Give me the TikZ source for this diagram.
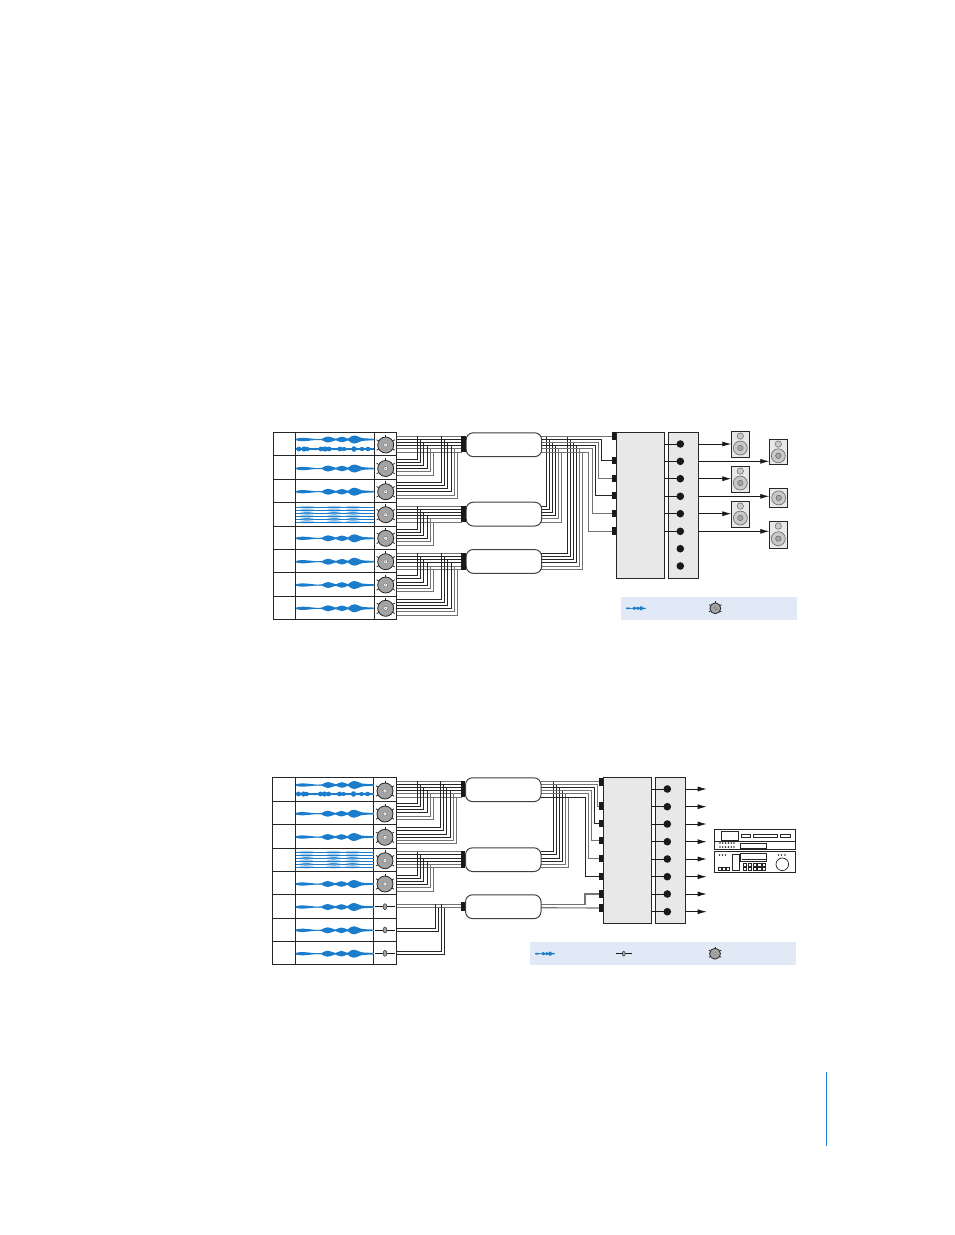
\documentclass[tikz,border=0pt]{standalone}
\usepackage{xcolor}
\usetikzlibrary{positioning, arrows.meta}
\definecolor{waveblue}{HTML}{1B7CCB}
\definecolor{wavepale}{HTML}{A9CDEB}
\definecolor{legendtint}{HTML}{E2E9F6}
\definecolor{panelgrey}{HTML}{E8E8E8}
\definecolor{knobgrey}{HTML}{A3A3A3}
\definecolor{conegrey}{HTML}{C9C9C9}

\tikzset{
  x=1pt, y=-1pt,
  wiredark/.style={draw=black!85, line width=.85pt},
  wirelight/.style={draw=black!55, line width=.95pt},
  panel/.style={draw=black!85, fill=panelgrey, line width=.9pt, inner sep=0pt, anchor=north west},
  busnode/.style={draw=black!75, fill=white, line width=1pt, rounded corners=7pt, inner sep=0pt, anchor=north west, minimum width=75.5pt, minimum height=23.8pt},
  busblock/.style={fill=black!90, inner sep=0pt, minimum width=4.2pt},
  portpin/.style={fill=black!90, inner sep=0pt, minimum width=4.2pt, minimum height=7.4pt},
  outdot/.style={circle, fill=black!90, inner sep=0pt, minimum size=7.6pt},
  cabinet/.style={draw=black!85, fill=panelgrey, line width=.8pt, inner sep=0pt, anchor=north west, minimum width=18pt},
  feed/.style={draw=black!90, line width=.8pt, -{Latex[length=9pt,width=5pt]}},
  stub/.style={draw=black!90, line width=.8pt},
  legendbar/.style={fill=legendtint, inner sep=0pt, anchor=north west},
  devicebox/.style={draw=black!85, fill=white, line width=.8pt, inner sep=0pt, anchor=north west},
  pics/knobdial/.style={code={
    \foreach \a in {-90,-30,-150,30,150}{\draw[black!85, line width=.8pt] (\a:8.2) -- (\a:10.4);}
    \draw[draw=black!85, fill=knobgrey, line width=.8pt] (0,0) circle (8);
    \draw[draw=black!60, fill=white, line width=.4pt] (0,0) circle (2);
    \fill[black!70] (0,0) circle (.5);
  }},
  pics/faderdial/.style={code={
    \draw[black!90, line width=1pt] (-10,0) -- (10,0);
    \draw[draw=black!80, fill=knobgrey, line width=.5pt] (0,0) ellipse (1.9 and 3);
  }},
  pics/wavebody/.style={code={
    \draw[wavepale, line width=.8pt] (0,0) -- (78,0);
    \fill[waveblue] plot[smooth cycle, tension=.45] coordinates {
      (0,-.6) (3,-1.4) (8,-1.6) (14,-1.1) (20,-.5) (26,-.7) (29,-2.2) (32,-3) (36,-2) (40,-.8) (43,-2) (46,-2.8) (49,-2)
      (52,-.9) (55,-3) (58.5,-4) (62,-3) (66,-1.5) (72,-1) (78,-.7)
      (78,.7) (72,1) (66,1.5) (62,3) (58.5,4) (55,3) (52,.9)
      (49,2) (46,2.8) (43,2) (40,.8) (36,2) (32,3) (29,2.2) (26,.7) (20,.5) (14,1.1) (8,1.6) (3,1.4) (0,.6)};
  }},
  pics/wavebeads/.style={code={
    \draw[waveblue, line width=1.3pt] (0,0) -- (78,0);
    \foreach \b/\r in {3/2.4,8/2.6,11/2.2,19/1.2,25/2.4,29/2.6,33/2.4,44/2.4,48/2,58/2.8,66/2,72/2.2}{
      \fill[waveblue] (\b,0) ellipse (2.6 and \r);}
  }},
  pics/wavelayers/.style={code={
    \foreach \d in {-7.4,-4.4,-1.4,1.6,4.6,7.4}{
      \foreach \b in {11,38,57}{\fill[wavepale] (\b,\d) ellipse (7.5 and 1.5);}
      \draw[waveblue, line width=.65pt] (0,\d) -- (78,\d);
    }
    \foreach \b in {11,38,57}{\fill[waveblue!80] (\b,-1.4) ellipse (4.5 and 1.3);\fill[waveblue!80] (\b,4.6) ellipse (4.5 and 1.3);}
  }},
}

\newcommand{\wiretap}[3]{\foreach \j in {0,...,5}{\coordinate (#1\j) at (#2,{#3+3.2*\j});}}
\newcommand{\wirestraight}[2]{\foreach \j/\tone in {0/wirelight,1/wiredark,2/wiredark,3/wiredark,4/wirelight,5/wirelight}{
  \draw[\tone] (#1\j) -- (#2\j);}}
\newcommand{\wireriser}[3]{\foreach \j/\tone in {0/wiredark,1/wiredark,2/wiredark,3/wiredark,4/wirelight,5/wirelight}{
  \coordinate (bend) at ({#3+3.1*\j},0);
  \draw[\tone] (#1\j) -- (bend |- #1\j) -- (bend |- #2\j);}}
\newcommand{\speakerbox}[5]{%
  \node[cabinet, minimum height=#4pt] (#1) at (#2,#3) {};
  \draw[draw=black!60, fill=conegrey, line width=.5pt] (#2+9,#3+4.8) circle (3.2);
  \draw[draw=black!60, fill=conegrey, line width=.6pt] (#2+9,#3+#5) circle (7);
  \draw[draw=black!60, fill=black!35, line width=.5pt] (#2+9,#3+#5) circle (2.7);}

\begin{document}
\begin{tikzpicture}
  \useasboundingbox (0,0) rectangle (954,1235);

  % upper routing
  \wiretap{knA1}{396.7}{436}
  \wiretap{knA2}{396.7}{459}
  \wiretap{knA3}{396.7}{482.3}
  \wiretap{knA4}{396.7}{506}
  \wiretap{knA5}{396.7}{529}
  \wiretap{knA6}{396.7}{553.3}
  \wiretap{knA7}{396.7}{575.7}
  \wiretap{knA8}{396.7}{599}
  \wiretap{inA1}{462}{436}
  \wiretap{inA2}{462}{506}
  \wiretap{inA3}{462}{553.3}
  \wiretap{outA1}{541}{436}
  \wiretap{outA2}{541}{506}
  \wiretap{outA3}{541}{553.3}
  \wirestraight{knA1}{inA1}
  \wirestraight{knA4}{inA2}
  \wirestraight{knA6}{inA3}
  \wireriser{knA2}{inA1}{417.7}
  \wireriser{knA3}{inA1}{441.7}
  \wireriser{knA5}{inA2}{417.7}
  \wireriser{knA7}{inA3}{417.7}
  \wireriser{knA8}{inA3}{441.7}
  \wireriser{outA2}{outA1}{546.3}
  \wireriser{outA3}{outA1}{567.3}

  \foreach \y [count=\n] in {436,460.7,478.7,495.3,513.7,531}{
    \node[portpin] (portA\n) at (614.5,\y) {};
  }
  \draw[wirelight] (outA10) -- (portA1.west);
  \foreach \j/\k/\xr/\tone in {1/2/601.3/wiredark,2/3/598.3/wirelight,3/4/595.3/wiredark,4/5/592/wirelight,5/6/588.7/wirelight}{
    \coordinate (bend) at (\xr,0);
    \draw[\tone] (outA1\j) -- (bend |- outA1\j) -- (bend |- portA\k) -- (portA\k.west);
  }

  % upper strip
  \draw[wiredark, line width=.9pt] (273.3,432.3) rectangle (396.7,619.3);
  \foreach \y in {455.3,479.3,502.3,526.3,549.3,572.7,596.3}{\draw[wiredark, line width=.9pt] (273.3,\y) -- (396.7,\y);}
  \foreach \x in {295.3,374.3}{\draw[wiredark, line width=.9pt] (\x,432.3) -- (\x,619.3);}
  \pic at (296,439.5) {wavebody};
  \pic at (296,449) {wavebeads};
  \foreach \y in {468.5,491.7,538.3,561.7,585,608.3}{\pic at (296,\y) {wavebody};}
  \pic at (296,514.6) {wavelayers};
  \foreach \y in {445,468.5,491.7,514.7,538.3,561.7,585,608.3}{\pic at (385.7,\y) {knobdial};}

  \node[busnode] (busA1) at (465.7,432.3) {};
  \node[busnode] (busA2) at (465.7,501.7) {};
  \node[busnode] (busA3) at (465.7,549) {};
  \node[busblock, minimum height=16.6pt] (blockA1) at (463.5,444) {};
  \node[busblock, minimum height=16.6pt] (blockA2) at (463.5,514) {};
  \node[busblock, minimum height=16.6pt] (blockA3) at (463.5,561.3) {};

  \node[panel, minimum width=47.8pt, minimum height=146pt] (mixerA) at (616.3,432.3) {};
  \node[panel, minimum width=30pt, minimum height=146pt] (monitorA) at (668.3,432.3) {};
  \foreach \y [count=\n] in {444,461.3,478.7,496.3,513.7,531.3,548.7,566}{
    \ifnum\n<7 \draw[stub] (mixerA.east |- 0,\y) -- (680.3,\y);\fi
    \node[outdot] (dotA\n) at (680.3,\y) {};
  }

  \speakerbox{spkA1}{731.3}{431.3}{25.4}{16.7}
  \speakerbox{spkA2}{769.3}{439.3}{25}{16.5}
  \speakerbox{spkA3}{731.3}{466.3}{25.4}{16.7}
  \speakerbox{spkA5}{731.3}{501.3}{25.4}{16.7}
  \speakerbox{spkA6}{769.3}{521.3}{26.4}{17.4}
  \node[cabinet, minimum height=18.4pt] (spkA4) at (769.3,488.3) {};
  \draw[draw=black!60, fill=conegrey, line width=.6pt] (spkA4.center) circle (7);
  \draw[draw=black!60, fill=black!35, line width=.5pt] (spkA4.center) circle (2.7);
  \foreach \n in {1,...,6}{
    \draw[feed] (monitorA.east |- dotA\n) -- (spkA\n.west |- dotA\n);
  }

  \node[legendbar, minimum width=176pt, minimum height=23pt] (legendA) at (621,597) {};
  \pic[xscale=.256, yscale=.55] at (626,608.3) {wavebody};
  \pic[scale=.68] at (715.3,608.3) {knobdial};

  % lower routing
  \wiretap{knB1}{396.7}{781}
  \wiretap{knB2}{396.7}{803.3}
  \wiretap{knB3}{396.7}{827.7}
  \wiretap{knB4}{396.7}{851.7}
  \wiretap{knB5}{396.7}{875}
  \wiretap{inB1}{461.5}{781}
  \wiretap{inB2}{461.5}{851.7}
  \wiretap{outB1}{540.5}{781}
  \wiretap{outB2}{540.5}{851.7}
  \wirestraight{knB1}{inB1}
  \wirestraight{knB4}{inB2}
  \wireriser{knB2}{inB1}{417.7}
  \wireriser{knB3}{inB1}{440.7}
  \wireriser{knB5}{inB2}{417.7}
  \wireriser{outB2}{outB1}{553.3}

  \coordinate (faderL6) at (396.7,904.3);
  \coordinate (faderR6) at (396.7,907.7);
  \coordinate (faderL7) at (396.7,928);
  \coordinate (faderR7) at (396.7,931.3);
  \coordinate (faderL8) at (396.7,951.3);
  \coordinate (faderR8) at (396.7,954.7);
  \coordinate (inB3L) at (461.5,904.3);
  \coordinate (inB3R) at (461.5,907.7);
  \coordinate (outB3L) at (540.5,904.3);
  \coordinate (outB3R) at (540.5,907.7);
  \draw[wirelight, line width=1.1pt] (faderL6) -- (inB3L);
  \draw[wirelight, line width=1.1pt] (faderR6) -- (inB3R);
  \foreach \from/\to/\xr in {faderL7/inB3L/435.3,faderR7/inB3R/438.3,faderL8/inB3L/441.7,faderR8/inB3R/444.7}{
    \coordinate (bend) at (\xr,0);
    \draw[wiredark] (\from) -- (bend |- \from) -- (bend |- \to);
  }

  \foreach \y [count=\n] in {782,806,823.7,840.7,858.7,876.7,894,908}{
    \node[portpin] (portB\n) at (601.2,\y) {};
  }
  \draw[wirelight] (outB10) -- (portB1.west |- outB10);
  \foreach \j/\k/\xr/\tone in {1/2/597.7/wirelight,2/3/594.7/wiredark,3/4/591.3/wirelight,4/5/588.3/wirelight,5/6/585/wiredark}{
    \coordinate (bend) at (\xr,0);
    \draw[\tone] (outB1\j) -- (bend |- outB1\j) -- (bend |- portB\k) -- (portB\k.west);
  }
  \coordinate (bend) at (585,0);
  \draw[wirelight, line width=1.1pt] (outB3L) -- (bend |- outB3L) -- (bend |- portB7) -- (portB7.west);
  \draw[wirelight, line width=1.1pt] (outB3R) -- (portB8.west);

  % lower strip
  \draw[wiredark, line width=.9pt] (272.3,777.3) rectangle (396.7,964.3);
  \foreach \y in {801.3,824.3,848.3,871.3,894.3,918.3,941.3}{\draw[wiredark, line width=.9pt] (272.3,\y) -- (396.7,\y);}
  \foreach \x in {295.3,373.3}{\draw[wiredark, line width=.9pt] (\x,777.3) -- (\x,964.3);}
  \pic at (296,785) {wavebody};
  \pic at (295.5,794) {wavebeads};
  \foreach \y in {813.7,837,884,907,930.3,953.7}{\pic at (295.5,\y) {wavebody};}
  \pic at (295.5,859.6) {wavelayers};
  \foreach \y in {791,814,837.3,860.7,884}{\pic at (385,\y) {knobdial};}
  \foreach \y in {906.7,930,953.3}{\pic at (385,\y) {faderdial};}

  \node[busnode] (busB1) at (465,777.3) {};
  \node[busnode, minimum height=23.7pt] (busB2) at (465,847.3) {};
  \node[busnode] (busB3) at (465,894.3) {};
  \node[busblock, minimum height=16.6pt] (blockB1) at (463,789) {};
  \node[busblock, minimum height=16.6pt] (blockB2) at (463,859.7) {};
  \node[busblock, minimum height=9.4pt] (blockB3) at (463,906.3) {};

  \node[panel, minimum width=48pt, minimum height=146pt] (mixerB) at (603.3,777.3) {};
  \node[panel, minimum width=30pt, minimum height=146pt] (monitorB) at (655.3,777.3) {};
  \foreach \y [count=\n] in {789,806.7,824,841.7,859,876.7,894,911.7}{
    \draw[stub] (mixerB.east |- 0,\y) -- (667.3,\y);
    \node[outdot] (dotB\n) at (667.3,\y) {};
    \coordinate (sendB\n) at (706.7,\y);
    \draw[feed] (monitorB.east |- dotB\n) -- (sendB\n);
  }

  \node[devicebox, minimum width=81pt, minimum height=20pt] (deckupper) at (714.3,829.3) {};
  \node[devicebox, minimum width=81pt, minimum height=21pt] (decklower) at (714.3,851.3) {};
  \begin{scope}[black!85, line width=.45pt]
    \draw (721,831.7) rectangle (738.3,840);
    \draw (741,834.3) rectangle (750.7,837.7);
    \draw (753.3,834.3) rectangle (777.7,837.7);
    \draw (780.3,834.3) rectangle (790,837.7);
    \draw (714.3,841) -- (795.3,841);
    \draw[line width=.7pt] (740.3,843.7) rectangle (766.7,848.7);
    \draw[line width=.7pt] (740.3,853.3) rectangle (766.7,861.7);
    \draw (741.5,859.5) -- (765.5,859.5);
    \draw (732.3,854.3) rectangle (739.7,870.7);
    \foreach \x in {718.2,722.2,726.2}{\draw (\x,867.5) rectangle +(3,3);}
    \foreach \x in {743.5,748.2,752.9,757.6,762.3}{
      \draw (\x,862.8) rectangle +(3.2,3);
      \draw (\x,867.5) rectangle +(3.2,3);
    }
    \draw[line width=.7pt] (782.3,864.3) circle (6.3);
    \foreach \x in {720,722.8,725.6,728.4,731.2,734}{
      \fill (\x,843) circle (.9);
      \fill (\x,847) circle (.9);
    }
    \foreach \x in {719.5,722.5,725.5,778.5,781.5,785}{\fill (\x,855) circle (.8);}
  \end{scope}

  \node[legendbar, minimum width=265.7pt, minimum height=23pt] (legendB) at (530,942) {};
  \pic[xscale=.256, yscale=.55] at (535,953.7) {wavebody};
  \pic[scale=.8] at (623.7,953.7) {faderdial};
  \pic[scale=.68] at (715,953.7) {knobdial};

  \coordinate (edgetop) at (826.5,1072);
  \coordinate (edgebottom) at (826.5,1146);
  \draw[waveblue, line width=1pt] (edgetop) -- (edgebottom);
\end{tikzpicture}
\end{document}
